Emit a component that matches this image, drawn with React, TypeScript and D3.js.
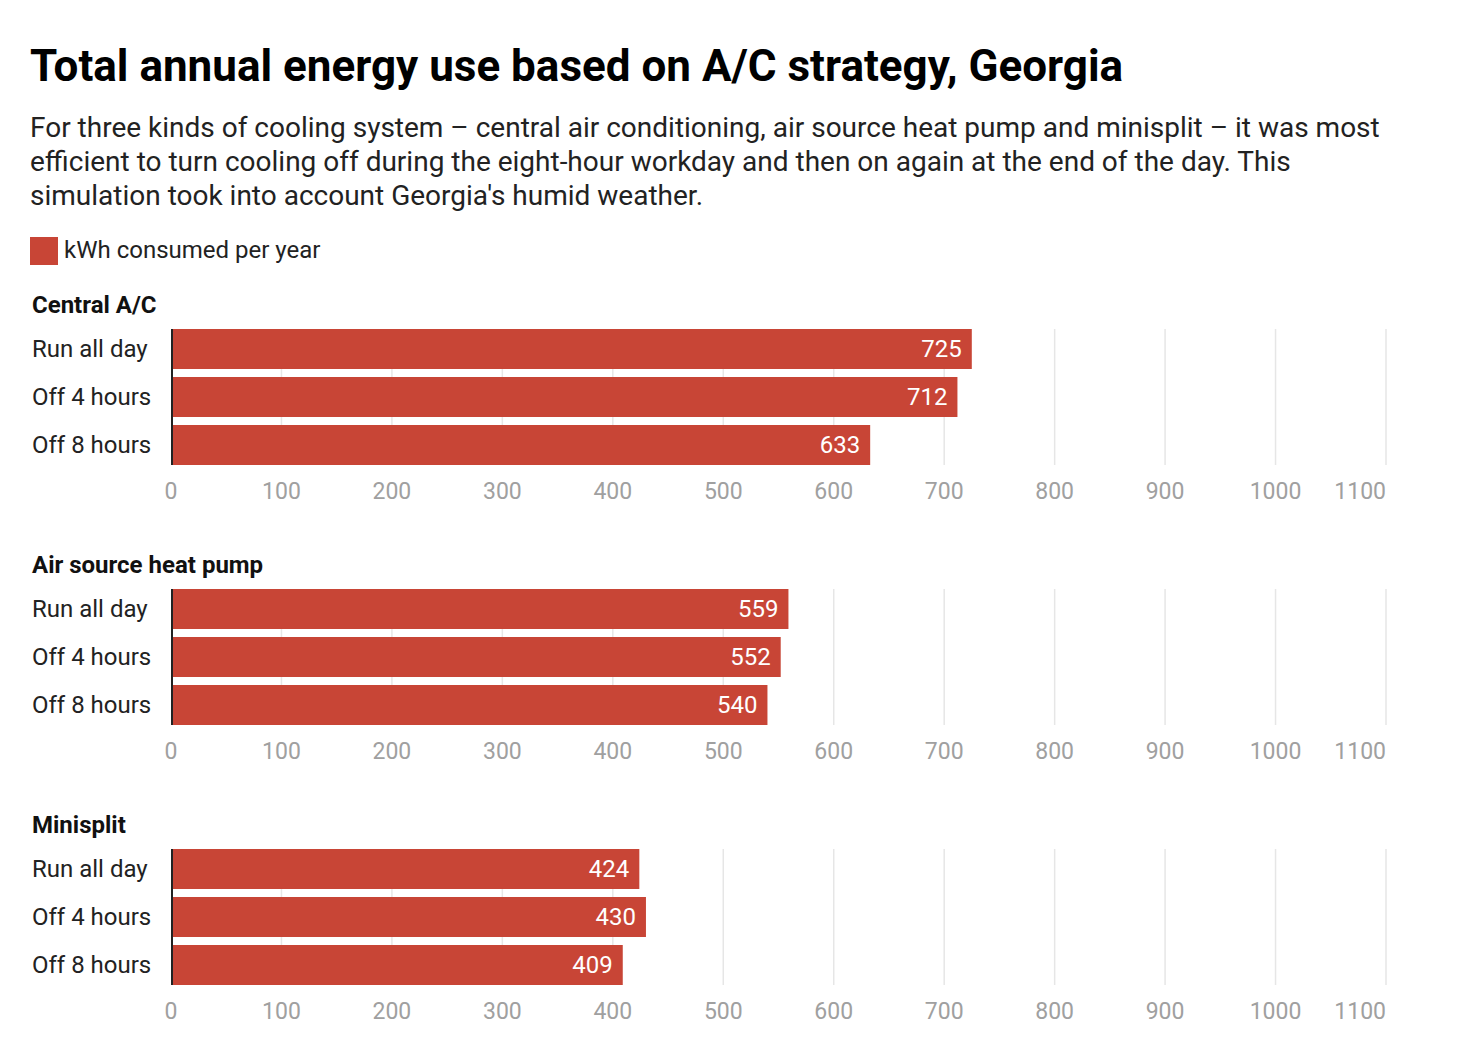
import * as d3 from "d3";
import React from "react";

const groups = ["Central A/C", "Air source heat pump", "Minisplit"];
const strategies = ["Run all day", "Off 4 hours", "Off 8 hours"];
const centralAC = [725, 712, 633];
const heatPump = [559, 552, 540];
const minisplit = [424, 430, 409];
const tickValues = [0, 100, 200, 300, 400, 500, 600, 700, 800, 900, 1000, 1100];

const title = "Total annual energy use based on A/C strategy, Georgia";
const subtitle = [
    "For three kinds of cooling system \u2013 central air conditioning, air source heat pump and minisplit \u2013 it was most",
    "efficient to turn cooling off during the eight-hour workday and then on again at the end of the day. This",
    "simulation took into account Georgia's humid weather.",
];
const legendLabel = "kWh consumed per year";

const width = 1484;
const height = 1058;
const barColour = "#c84536";
const font = "Roboto, 'Noto Sans', sans-serif";

function App() {
    const seriesByGroup = [centralAC, heatPump, minisplit];

    const x = d3.scaleLinear().domain([0, 1100]).range([171, 1386]);

    // one block per group, each block holds 3 bars
    const groupY = d3.scaleBand<string>().domain(groups).range([329, 329 + 260 * 3]);
    const barY = d3.scaleBand<string>().domain(strategies).range([0, 136]).paddingInner(1 / 6);

    return (
        <svg
            width={width}
            height={height}
            style={{ position: "absolute", left: 0, top: 0, fontFamily: font }}
        >
            <rect width={width} height={height} fill="#fff" />
            <text x={30} y={81} fontSize={44} fontWeight={700} fill="#000">{title}</text>
            {subtitle.map((line, i) => (
                <text key={i} x={30} y={137 + i * 34} fontSize={28} fill="#222">{line}</text>
            ))}
            <rect x={30} y={237} width={28} height={28} fill={barColour} />
            <text x={64} y={258} fontSize={24} fill="#222">{legendLabel}</text>

            {groups.map((g, gi) => {
                const top = groupY(g) || 0;
                const values = seriesByGroup[gi];
                return (
                    <g key={g} transform={`translate(0, ${top})`}>
                        <text x={32} y={-16} fontSize={24} fontWeight={700} fill="#111">{g}</text>
                        {tickValues.slice(1).map(t => (
                            <line key={t} x1={x(t)} x2={x(t)} y1={0} y2={136} stroke="#e6e6e6" strokeWidth={1.5} />
                        ))}
                        {strategies.map((s, si) => {
                            const y = barY(s) || 0;
                            const v = values[si];
                            return (
                                <g key={s}>
                                    <rect x={x(0)} y={y} width={x(v) - x(0)} height={barY.bandwidth()} fill={barColour} />
                                    <text x={32} y={y + barY.bandwidth() / 2} dy="0.35em" fontSize={24} fill="#222">{s}</text>
                                    <text x={x(v) - 10} y={y + barY.bandwidth() / 2} dy="0.35em" fontSize={24} fill="#fff" textAnchor="end">{v}</text>
                                </g>
                            );
                        })}
                        <line x1={x(0) + 1} x2={x(0) + 1} y1={0} y2={136} stroke="#222" strokeWidth={2} />
                        {tickValues.map((t, ti) => (
                            <text
                                key={t}
                                x={x(t)}
                                y={170}
                                fontSize={23}
                                fill="#a0a0a0"
                                textAnchor={ti === tickValues.length - 1 ? "end" : "middle"}
                            >{t}</text>
                        ))}
                    </g>
                );
            })}
        </svg>
    );
}

export default App;
